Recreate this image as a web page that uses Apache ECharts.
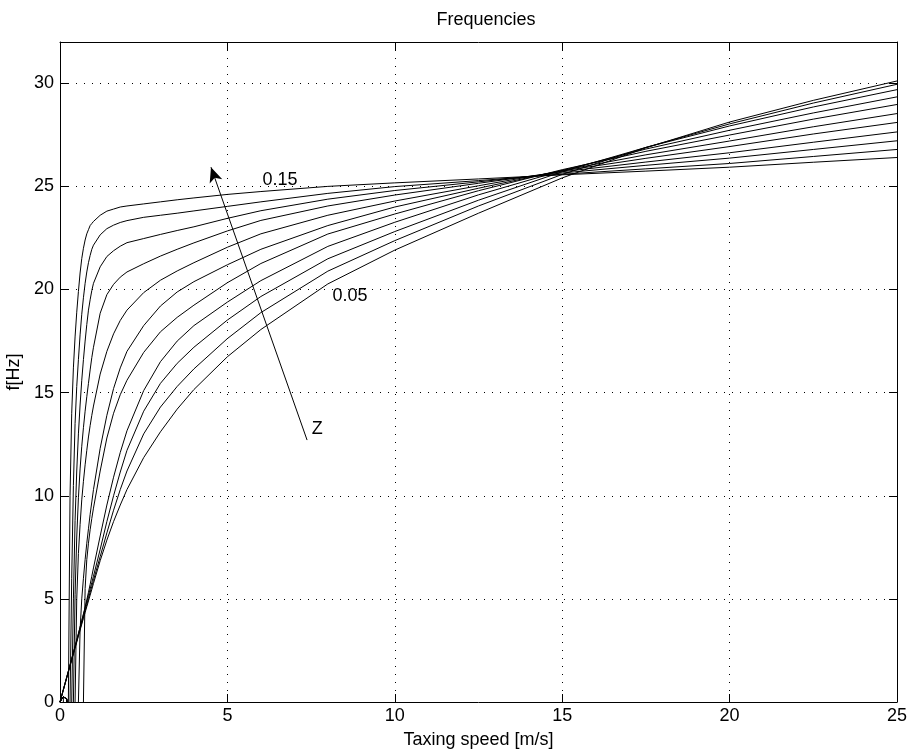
<!DOCTYPE html>
<html>
<head>
<meta charset="utf-8">
<title>Frequencies</title>
<script src="https://cdn.jsdelivr.net/npm/echarts@6/dist/echarts.min.js"></script>
<style>
    html, body { margin: 0; padding: 0; background: #fff; }
    #chart { width: 911px; height: 756px; }
</style>
</head>
<body>
<div id="chart"></div>
<script>
// taxiing speed samples [m/s], dense near zero where the curves turn sharply
const speed = [0, 0.05, 0.1, 0.15, 0.2, 0.25, 0.3, 0.35, 0.4, 0.45, 0.5,
    0.55, 0.6, 0.65, 0.7, 0.75, 0.8, 0.85, 0.9, 0.95, 1.0,
    1.2, 1.4, 1.6, 1.8, 2.0, 2.5, 3, 3.5, 4, 5, 6, 8, 10,
    12.5, 15, 17.5, 20, 22.5, 25];

const zLevels = ['0.05', '0.06', '0.07', '0.08', '0.09', '0.10',
    '0.11', '0.12', '0.13', '0.14', '0.15'];

// frequency [Hz] for each Z
const f005 = [0, 0.29, 0.58, 0.87, 1.16, 1.45, 1.74, 2.03, 2.32, 2.61, 2.9,
    3.19, 3.48, 3.77, 4.06, 4.34, 4.62, 4.9, 5.18, 5.46, 5.75,
    6.85, 7.85, 8.75, 9.55, 10.3, 11.85, 13.1, 14.2, 15.15,
    16.74, 18.06, 20.27, 21.91, 23.7, 25.41, 26.87, 28.12, 29.17, 30.11];
const f006 = [0, 0.3, 0.59, 0.89, 1.18, 1.48, 1.77, 2.07, 2.36, 2.66, 2.95,
    3.25, 3.54, 3.84, 4.13, 4.43, 4.72, 5.02, 5.31, 5.61, 5.9,
    7.05, 8.2, 9.3, 10.3, 11.2, 13.0, 14.3, 15.3, 16.15,
    17.62, 18.88, 20.89, 22.37, 24.05, 25.58, 26.89, 28.03, 29.04, 29.95];
const f007 = [0, 0.3, 0.6, 0.9, 1.2, 1.5, 1.8, 2.1, 2.4, 2.7, 3.0,
    3.31, 3.62, 3.93, 4.24, 4.55, 4.86, 5.17, 5.48, 5.79, 6.1,
    7.4, 8.75, 10.0, 11.15, 12.2, 14.1, 15.45, 16.42, 17.2,
    18.52, 19.66, 21.49, 22.81, 24.33, 25.71, 26.89, 27.93, 28.85, 29.69];
const f008 = [0, 0.3, 0.6, 0.9, 1.2, 1.5, 1.8, 2.1, 2.4, 2.7, 3.0,
    3.32, 3.63, 3.95, 4.27, 4.6, 4.95, 5.32, 5.7, 6.1, 6.5,
    8.05, 9.55, 10.9, 12.1, 13.15, 15.1, 16.5, 17.5, 18.25,
    19.39, 20.43, 22.09, 23.26, 24.59, 25.77, 26.81, 27.72, 28.56, 29.34];
const f009 = [0, 0.15, 0.25, 0.25, 0.15, -0.5, -20, -20, -20, -20, -20,
    -20, -20, -20, 0, 5.5, 6.9, 7.7, 8.35, 8.9, 9.4,
    11.2, 12.8, 14.0, 14.9, 15.6, 16.95, 17.95, 18.65, 19.24,
    20.33, 21.26, 22.69, 23.66, 24.79, 25.81, 26.7, 27.49, 28.26, 28.97];
const f010 = [0, 0.15, 0.25, 0.25, 0.15, -0.5, -20, -20, -20, -20, -20,
    0, 3.5, 5.0, 6.0, 6.9, 7.7, 8.4, 9.1, 9.7, 10.3,
    12.3, 13.9, 15.2, 16.2, 17.0, 18.25, 19.2, 19.88, 20.38,
    21.2, 21.95, 23.1, 24.0, 24.91, 25.77, 26.53, 27.2, 27.89, 28.53];
const f011 = [0, 0.15, 0.25, 0.25, 0.15, -0.5, -20, -20, -20, 0, 5.0,
    7.2, 8.6, 9.8, 10.7, 11.5, 12.2, 12.85, 13.4, 13.9, 14.35,
    15.9, 17.0, 17.85, 18.5, 19.0, 19.85, 20.45, 20.9, 21.3,
    22.05, 22.7, 23.6, 24.29, 25.03, 25.75, 26.36, 26.93, 27.54, 28.1];
const f012 = [0, 0.15, 0.25, 0.25, 0.15, -0.5, -20, -20, 0, 5.2, 8.0,
    9.9, 11.3, 12.4, 13.3, 14.1, 14.8, 15.45, 16.1, 16.7, 17.2,
    18.85, 19.75, 20.25, 20.6, 20.85, 21.25, 21.62, 21.95, 22.26,
    22.84, 23.35, 24.05, 24.58, 25.15, 25.71, 26.18, 26.63, 27.14, 27.64];
const f013 = [0, 0.15, 0.25, 0.25, 0.15, -0.5, -20, 0, 5.0, 8.8, 11.2,
    13.0, 14.4, 15.6, 16.6, 17.5, 18.3, 19.0, 19.5, 19.95, 20.3,
    21.1, 21.6, 21.88, 22.1, 22.27, 22.47, 22.67, 22.86, 23.04,
    23.45, 23.82, 24.38, 24.8, 25.22, 25.65, 26.02, 26.37, 26.79, 27.21];
const f014 = [0, 0.15, 0.25, 0.25, 0.15, -20, 0, 6.0, 10.5, 13.5, 15.3,
    16.6, 17.8, 18.8, 19.6, 20.3, 20.85, 21.3, 21.65, 21.95, 22.15,
    22.65, 22.95, 23.12, 23.25, 23.34, 23.5, 23.6, 23.7, 23.81,
    24.03, 24.25, 24.66, 24.99, 25.28, 25.59, 25.85, 26.11, 26.45, 26.79];
const f015 = [0, 0.15, 0.25, 0.2, -20, 0, 10.0, 14.0, 16.2, 17.7, 18.9,
    19.9, 20.8, 21.5, 22.0, 22.4, 22.7, 22.9, 23.1, 23.2, 23.3,
    23.6, 23.8, 23.9, 24.0, 24.05, 24.15, 24.25, 24.35, 24.44,
    24.61, 24.75, 25.0, 25.17, 25.36, 25.56, 25.74, 25.93, 26.17, 26.4];

const curves = [f005, f006, f007, f008, f009, f010, f011, f012, f013, f014, f015];

// annotation anchors, in data units
const arrowTail = [7.38, 12.7];
const arrowHead = [4.51, 25.93];
const notes = [
    {text: '0.15', at: [6.57, 25.3]},
    {text: '0.05', at: [8.66, 19.68]},
    {text: 'Z', at: [7.68, 13.25]},
];

document.addEventListener('DOMContentLoaded', () => {
    'use strict';
    const font = '"Liberation Sans", Arial, Helvetica, sans-serif';
    const black = '#000';
    const textSize = 18;

    const frameAxis = (extra) => Object.assign({
        type: 'value',
        axisLine: {show: true, onZero: false, lineStyle: {color: black, width: 1}},
        axisTick: {show: true, inside: true, length: 8, lineStyle: {color: black}},
        axisLabel: {show: false},
        splitLine: {show: false},
    }, extra);

    const grid = {
        show: true, color: black, width: 1, type: [1, 7],
    };

    const chart = echarts.init(document.getElementById('chart'));

    chart.setOption({
        animation: false,
        backgroundColor: '#fff',
        title: {
            text: 'Frequencies', left: 481, top: 6, textAlign: 'center',
            textStyle: {fontFamily: font, fontSize: textSize, fontWeight: 'normal', color: black},
        },
        grid: {left: 60, right: 14, top: 42, bottom: 54, containLabel: false, outerBoundsMode: 'none'},
        xAxis: [
            frameAxis({
                min: 0, max: 25, interval: 5, position: 'bottom',
                name: 'Taxing speed [m/s]', nameLocation: 'middle', nameGap: 29,
                nameTextStyle: {fontFamily: font, fontSize: textSize, color: black},
                axisLabel: {show: true, margin: 5, color: black, fontFamily: font, fontSize: textSize},
                splitLine: {show: true, lineStyle: grid},
            }),
            frameAxis({min: 0, max: 25, interval: 5, position: 'top'}),
        ],
        yAxis: [
            frameAxis({
                min: 0, max: 32, interval: 5, position: 'left',
                name: 'f[Hz]', nameLocation: 'middle', nameGap: 37,
                nameTextStyle: {fontFamily: font, fontSize: textSize, color: black},
                axisLabel: {
                    show: true, margin: 6, color: black, fontFamily: font, fontSize: textSize,
                    formatter: (v) => (v % 5 === 0 ? String(v) : ''),
                },
                splitLine: {show: true, lineStyle: grid},
            }),
            frameAxis({min: 0, max: 32, interval: 5, position: 'right'}),
        ],
        series: curves.map((vals, i) => ({
            name: 'Z = ' + zLevels[i],
            type: 'line',
            xAxisIndex: 0,
            yAxisIndex: 0,
            data: speed.map((x, k) => [x, vals[k]]),
            symbol: 'none',
            clip: true,
            silent: true,
            itemStyle: {color: black},
            lineStyle: {color: black, width: 1},
            markLine: i === 0 ? {
                silent: true,
                symbol: ['none', 'arrow'],
                symbolSize: [10, 15],
                label: {show: false},
                lineStyle: {color: black, width: 1, type: 'solid'},
                data: [[{coord: arrowTail}, {coord: arrowHead}]],
            } : undefined,
        })),
    });

    chart.setOption({
        graphic: notes.map((n) => {
            const p = chart.convertToPixel({seriesIndex: 0}, n.at);
            return {
                type: 'text', x: p[0], y: p[1], silent: true,
                style: {
                    text: n.text, fill: black, fontFamily: font, fontSize: textSize,
                    align: 'center', verticalAlign: 'middle',
                },
            };
        }),
    });
});
</script>
</body>
</html>
